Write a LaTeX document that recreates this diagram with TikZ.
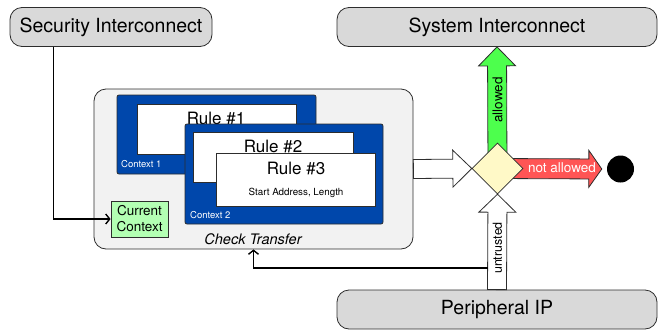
\documentclass[tikz,border=0pt]{standalone}
\usepackage{fontspec}
\setmainfont{TeX Gyre Heros}
\usetikzlibrary{calc,arrows.meta,shapes.geometric}

\definecolor{boxgray}{RGB}{217,217,217}
\definecolor{panelgray}{RGB}{242,242,242}
\definecolor{ctxblue}{RGB}{0,71,171}
\definecolor{okgreen}{RGB}{77,255,77}
\definecolor{denyred}{RGB}{255,85,85}
\definecolor{decyellow}{RGB}{255,249,199}
\definecolor{curgreen}{RGB}{179,255,179}
\definecolor{edge}{RGB}{45,45,45}

% wide block arrow: style, start, tip, shaft half width, head half width, head length
\newcommand\blockarrow[6]{%
  \path ($(#3)!#6!(#2)$) coordinate (ba-h);
  \draw[#1] ($(#2)!#4!90:(#3)$) -- ($(ba-h)!#4!90:(#3)$) -- ($(ba-h)!#5!90:(#3)$)
    -- (#3) -- ($(ba-h)!#5!-90:(#3)$) -- ($(ba-h)!#4!-90:(#3)$)
    -- ($(#2)!#4!-90:(#3)$) -- cycle;
}

\tikzset{
  iface/.style={draw=edge, fill=boxgray, rounded corners=12pt, line width=0.8pt,
    inner sep=0pt, minimum height=39pt, text=black,
    font=\fontsize{19.5}{23}\selectfont},
  panel/.style={draw=edge, fill=panelgray, rounded corners=12pt, line width=0.8pt, inner sep=0pt},
  ctxbox/.style={draw=edge, fill=ctxblue, rounded corners=2pt, line width=0.8pt, inner sep=0pt},
  rulebox/.style={draw=edge, fill=white, line width=0.8pt, inner sep=0pt},
  rulelbl/.style={font=\fontsize{17}{20}\selectfont, inner sep=0pt},
  ctxlbl/.style={font=\fontsize{9.5}{11}\selectfont, text=white, inner sep=0pt, anchor=west},
  wire/.style={line width=1.4pt, -{Straight Barb[length=4pt,width=10pt]}},
  barrow/.style={draw=edge, line width=0.8pt, line join=miter},
  arrowlbl/.style={font=\fontsize{13.5}{16}\selectfont, inner sep=0pt},
}

\begin{document}
\begin{tikzpicture}[x=1pt, y=-1pt]
\useasboundingbox (0,0) rectangle (662,330);

% interconnects and the peripheral
\node[iface, minimum width=202pt] (sec) at (111,27) {Security Interconnect};
\node[iface, minimum width=320pt] (sys) at (497,27) {System Interconnect};
\node[iface, minimum width=320pt] (per) at (497,309.5) {Peripheral IP};

% checking unit
\node[panel, minimum width=319pt, minimum height=160pt] (chk) at (253.5,169) {};

\node[ctxbox, minimum width=199pt, minimum height=79pt] (ctx1) at (216.5,134.5) {};
\node[rulebox, minimum width=159pt, minimum height=50pt] (r1) at (216.5,129) {};
\node[rulelbl] (r1t) at (216,118) {Rule \#1};
\node[ctxlbl] (c1t) at (121,164.5) {Context 1};

\node[ctxbox, minimum width=198pt, minimum height=100pt] (ctx2) at (284,174) {};
\node[rulebox, minimum width=160pt, minimum height=50pt] (r2) at (273,157) {};
\node[rulelbl] (r2t) at (273,146) {Rule \#2};
\node[rulebox, minimum width=159pt, minimum height=53pt] (r3) at (295.5,179.5) {};
\node[rulelbl] (r3t) at (296,168) {Rule \#3};
\node[font=\fontsize{9.8}{12}\selectfont, inner sep=0pt] (r3d) at (296,193) {Start Address, Length};
\node[ctxlbl] (c2t) at (190,215) {Context 2};

\node[draw=edge, fill=curgreen, line width=0.8pt, minimum width=57pt, minimum height=36pt,
  inner sep=0pt, align=center, font=\fontsize{13.5}{16}\selectfont] (cur) at (139.5,219)
  {Current\\Context};
\node[font=\fontsize{14.5}{17}\itshape, inner sep=0pt] (chkt) at (253,239) {Check Transfer};

% decision and sink
\node[diamond, minimum width=51pt, minimum height=51pt, inner sep=0pt] (dec) at (497.5,168.5) {};
\node[circle, fill=black, minimum size=27pt, inner sep=0pt] (sink) at (620.5,169) {};
\coordinate (stop) at ($(sink.west)+(-5,0)$);
\coordinate (tap) at (488,268);

% block arrows
\blockarrow{barrow, fill=okgreen}{dec.center}{sys.south}{9.5pt}{18.5pt}{19pt}
\blockarrow{barrow, fill=denyred}{dec.center}{stop}{10pt}{18.5pt}{13pt}
\blockarrow{barrow, fill=white}{chk.east}{dec.west}{9.5pt}{18.5pt}{19pt}
\blockarrow{barrow, fill=white}{per.north}{dec.south}{9.5pt}{18.5pt}{18pt}

\node[diamond, draw=edge, fill=decyellow, line width=0.8pt, minimum width=51pt,
  minimum height=51pt, inner sep=0pt] at (dec) {};

\node[arrowlbl, rotate=90] (okt) at (497.5,100) {allowed};
\node[arrowlbl, text=white] (nokt) at (562,168) {not allowed};
\node[arrowlbl, rotate=90, font=\fontsize{12.5}{15}\selectfont] (untt) at (497.5,248) {untrusted};

% control wires
\draw[wire] (sec.south west) ++(44,0) |- (cur.west);
\draw[wire] (tap) -| (chk.south);
\end{tikzpicture}
\end{document}
